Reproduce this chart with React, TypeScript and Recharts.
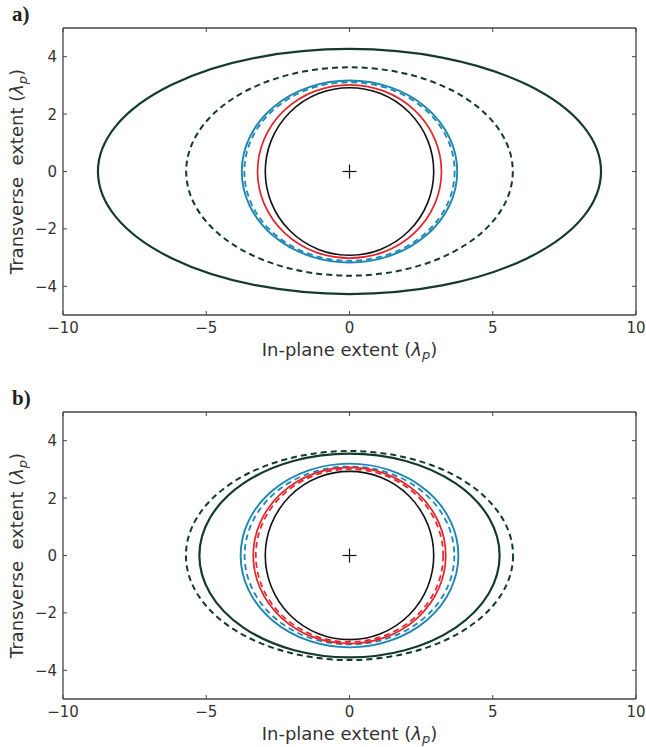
import React from 'react';
import { ComposedChart, XAxis, YAxis, Scatter, ReferenceArea } from 'recharts';

const X_TICKS = [-10, -5, 0, 5, 10];
const Y_TICKS = [-4, -2, 0, 2, 4];
const CENTER = [{ x: 0, y: 0 }];

// panel a) curves and their half extents (in lambda_p)
const CURVES_A = ['greenSolid', 'greenDashed', 'blueSolid', 'blueDashed', 'redSolid', 'black'];
const HALF_X_A = [8.78, 5.7, 3.76, 3.67, 3.21, 2.94];
const HALF_Y_A = [4.27, 3.63, 3.17, 3.11, 3.02, 2.92];

// panel b)
const CURVES_B = ['greenDashed', 'greenSolid', 'blueSolid', 'blueDashed', 'redSolid', 'redDashed', 'black'];
const HALF_X_B = [5.71, 5.24, 3.8, 3.66, 3.36, 3.27, 2.94];
const HALF_Y_B = [3.64, 3.55, 3.2, 3.1, 3.07, 3.01, 2.93];

const STYLES: Record<string, { stroke: string; width: number; dash?: string }> = {
  greenSolid: { stroke: '#143a2e', width: 2.2 },
  greenDashed: { stroke: '#143a2e', width: 2, dash: '6 4' },
  blueSolid: { stroke: '#1d86b2', width: 1.9 },
  blueDashed: { stroke: '#1d86b2', width: 1.8, dash: '6 4' },
  redSolid: { stroke: '#e3242b', width: 1.7 },
  redDashed: { stroke: '#e3242b', width: 1.7, dash: '6 4' },
  black: { stroke: '#111', width: 1.6 },
};

const FONT = '"DejaVu Sans", sans-serif';
const TEXT = '#333';
const FRAME = '#444';

const fmt = (v: number) => (v < 0 ? '\u2212' + Math.abs(v) : String(v));

const BottomTick = (p: any) => (
  <g>
    <line x1={p.x} y1={p.y} x2={p.x} y2={p.y - 4} stroke={FRAME} strokeWidth={1} />
    <text x={p.x} y={p.y + 18} textAnchor="middle" fontFamily={FONT} fontSize={15} fill={TEXT}>
      {fmt(p.payload.value)}
    </text>
  </g>
);

const TopTick = (p: any) => (
  <line x1={p.x} y1={p.y} x2={p.x} y2={p.y + 4} stroke={FRAME} strokeWidth={1} />
);

const LeftTick = (p: any) => (
  <g>
    <line x1={p.x} y1={p.y} x2={p.x + 4} y2={p.y} stroke={FRAME} strokeWidth={1} />
    <text x={p.x - 6} y={p.y + 5.5} textAnchor="end" fontFamily={FONT} fontSize={15} fill={TEXT}>
      {fmt(p.payload.value)}
    </text>
  </g>
);

const RightTick = (p: any) => (
  <line x1={p.x} y1={p.y} x2={p.x - 4} y2={p.y} stroke={FRAME} strokeWidth={1} />
);

const XLabel = (p: any) => {
  const vb = p.viewBox;
  return (
    <text x={vb.x + vb.width / 2} y={vb.y + 41} textAnchor="middle" fontFamily={FONT} fontSize={18} fill={TEXT}>
      In-plane extent (<tspan fontStyle="italic">λ</tspan>
      <tspan fontStyle="italic" fontSize={13} dy={3}>p</tspan>
      <tspan dy={-3}>)</tspan>
    </text>
  );
};

const YLabel = (p: any) => {
  const vb = p.viewBox;
  const cx = vb.x + 23;
  const cy = vb.y + vb.height / 2;
  return (
    <text
      x={cx}
      y={cy}
      transform={`rotate(-90 ${cx} ${cy})`}
      textAnchor="middle"
      fontFamily={FONT}
      fontSize={18}
      fill={TEXT}
      style={{ whiteSpace: 'pre' }}
    >
      {'Transverse  extent ('}
      <tspan fontStyle="italic">λ</tspan>
      <tspan fontStyle="italic" fontSize={13} dy={4}>p</tspan>
      <tspan dy={-4}>)</tspan>
    </text>
  );
};

const Cross = (p: any) => (
  <g stroke="#111" strokeWidth={1.2}>
    <line x1={p.cx - 7} y1={p.cy} x2={p.cx + 7} y2={p.cy} />
    <line x1={p.cx} y1={p.cy - 7} x2={p.cx} y2={p.cy + 7} />
  </g>
);

const Empty = () => <g />;

const ellipseShape = (kind: string) => (p: any) => {
  const s = STYLES[kind];
  const w = Math.abs(p.width);
  const h = Math.abs(p.height);
  const x = Math.min(p.x, p.x + p.width);
  const y = Math.min(p.y, p.y + p.height);
  return (
    <ellipse
      cx={x + w / 2}
      cy={y + h / 2}
      rx={w / 2}
      ry={h / 2}
      fill="none"
      stroke={s.stroke}
      strokeWidth={s.width}
      strokeDasharray={s.dash}
    />
  );
};

const Panel = ({ tag, curves, hx, hy, top }: { tag: string; curves: string[]; hx: number[]; hy: number[]; top: number }) => (
  <div style={{ position: 'absolute', left: 0, top, width: 646, height: 370 }}>
    <div
      style={{
        position: 'absolute',
        left: 12,
        top: 2,
        fontFamily: '"Liberation Serif", serif',
        fontWeight: 'bold',
        fontSize: 21,
        color: '#222',
        lineHeight: '24px',
      }}
    >
      {tag}
    </div>
    <ComposedChart width={646} height={370} margin={{ top: 27, right: 9, bottom: 0, left: 0 }}>
      <XAxis
        type="number"
        dataKey="x"
        domain={[-10, 10]}
        ticks={X_TICKS}
        allowDataOverflow
        height={55}
        tickSize={0}
        tickMargin={0}
        tick={<BottomTick />}
        axisLine={{ stroke: FRAME, strokeWidth: 1.3 }}
        tickLine={false}
        label={XLabel}
      />
      <XAxis
        xAxisId="top"
        orientation="top"
        type="number"
        dataKey="x"
        domain={[-10, 10]}
        ticks={X_TICKS}
        allowDataOverflow
        height={1}
        tickSize={0}
        tickMargin={0}
        tick={<TopTick />}
        axisLine={{ stroke: FRAME, strokeWidth: 1.3 }}
        tickLine={false}
      />
      <YAxis
        type="number"
        dataKey="y"
        domain={[-5, 5]}
        ticks={Y_TICKS}
        allowDataOverflow
        width={63}
        tickSize={0}
        tickMargin={0}
        tick={<LeftTick />}
        axisLine={{ stroke: FRAME, strokeWidth: 1.3 }}
        tickLine={false}
        label={YLabel}
      />
      <YAxis
        yAxisId="right"
        orientation="right"
        type="number"
        dataKey="y"
        domain={[-5, 5]}
        ticks={Y_TICKS}
        allowDataOverflow
        width={1}
        tickSize={0}
        tickMargin={0}
        tick={<RightTick />}
        axisLine={{ stroke: FRAME, strokeWidth: 1.3 }}
        tickLine={false}
      />
      {curves.map((kind, i) => (
        <ReferenceArea
          key={kind + i}
          x1={-hx[i]}
          x2={hx[i]}
          y1={-hy[i]}
          y2={hy[i]}
          ifOverflow="visible"
          shape={ellipseShape(kind)}
        />
      ))}
      <Scatter data={CENTER} dataKey="y" shape={<Cross />} isAnimationActive={false} />
      <Scatter data={CENTER} dataKey="y" xAxisId="top" yAxisId="right" shape={<Empty />} isAnimationActive={false} />
    </ComposedChart>
  </div>
);

export default function App() {
  return (
    <div style={{ position: 'absolute', left: 0, top: 0, width: 646, height: 747, background: '#fff', overflow: 'hidden' }}>
      <Panel tag="a)" curves={CURVES_A} hx={HALF_X_A} hy={HALF_Y_A} top={0} />
      <Panel tag="b)" curves={CURVES_B} hx={HALF_X_B} hy={HALF_Y_B} top={384} />
    </div>
  );
}
